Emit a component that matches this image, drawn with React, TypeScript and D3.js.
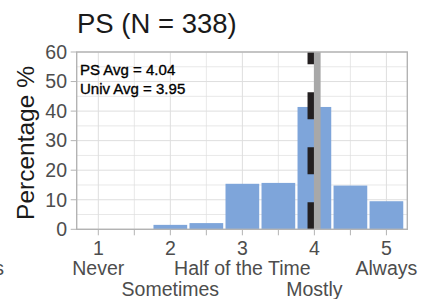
import { scaleLinear, range } from 'd3'

// Histogram of PS responses with PS / university averages as vertical lines.

const binCenters = [1, 1.5, 2, 2.5, 3, 3.5, 4, 4.5, 5]
const percents = [0, 0, 1.5, 2.1, 15.4, 15.7, 41.4, 14.8, 9.5]
const tickValues = [1, 2, 3, 4, 5]
const tickNames = ['Never', 'Sometimes', 'Half of the Time', 'Mostly', 'Always']
const tickNameRow = [0, 1, 0, 1, 0]
const yTicks = [0, 10, 20, 30, 40, 50, 60]
const psAvg = 4.04
const univAvg = 3.95

const W = 425
const H = 299
const P = { left: 76.7, right: 407.3, top: 52, bottom: 229.3 }
const FONT = '"Liberation Sans", Arial, Helvetica, sans-serif'
const TICK_FS = 19.5

export default function App() {
  const x = scaleLinear().domain([0.7, 5.29]).range([P.left, P.right])
  const y = scaleLinear().domain([0, 60]).range([P.bottom, P.top])
  const halfBar = 0.234

  return (
    <svg width={W} height={H} style={{ position: 'absolute', left: 0, top: 0 }} fontFamily={FONT}>
      <rect width={W} height={H} fill="#fff" />
      <text x={77} y={33} fontSize={27.5} fill="#1a1a1a">PS (N = 338)</text>

      {/* grid */}
      {range(0, 61, 5).map((v) => (
        <line key={'h' + v} x1={P.left} x2={P.right} y1={y(v)} y2={y(v)} stroke="#dedede" strokeWidth={v % 10 === 0 ? 1 : 0.7} />
      ))}
      {range(1, 5.3, 0.5).map((v) => (
        <line key={'v' + v} x1={x(v)} x2={x(v)} y1={P.top} y2={P.bottom} stroke="#dedede" strokeWidth={v % 1 === 0 ? 1 : 0.7} />
      ))}

      {/* bars */}
      {binCenters.map((c, i) =>
        percents[i] > 0 ? (
          <rect
            key={c}
            x={x(c - halfBar)}
            width={x(c + halfBar) - x(c - halfBar)}
            y={y(percents[i])}
            height={y(0) - y(percents[i])}
            fill="#7ea5da"
          />
        ) : null,
      )}

      {/* averages */}
      <line x1={x(univAvg)} x2={x(univAvg)} y1={P.bottom} y2={P.top} stroke="#231f20" strokeWidth={6.5} strokeDasharray="27 28" />
      <line x1={x(psAvg)} x2={x(psAvg)} y1={P.bottom} y2={P.top} stroke="#a8a8a8" strokeWidth={6.7} />

      <text x={80} y={75} fontSize={15} fill="#000" stroke="#000" strokeWidth={0.35}>PS Avg = {psAvg.toFixed(2)}</text>
      <text x={80} y={94} fontSize={15} fill="#000" stroke="#000" strokeWidth={0.35}>Univ Avg = {univAvg.toFixed(2)}</text>

      {/* panel border */}
      <rect x={P.left} y={P.top} width={P.right - P.left} height={P.bottom - P.top} fill="none" stroke="#b3b3b3" strokeWidth={1.4} />

      {/* y axis */}
      {yTicks.map((v) => (
        <g key={v}>
          <line x1={P.left - 6} x2={P.left} y1={y(v)} y2={y(v)} stroke="#b3b3b3" />
          <text x={67} y={y(v)} dy="0.35em" fontSize={TICK_FS} textAnchor="end" fill="#4d4d4d">{v}</text>
        </g>
      ))}
      <text transform={`translate(34,143) rotate(-90)`} fontSize={24.5} textAnchor="middle" fill="#1a1a1a">Percentage %</text>

      {/* x axis */}
      {range(1, 5.3, 0.5).map((v) => (
        <line key={'t' + v} x1={x(v)} x2={x(v)} y1={P.bottom} y2={P.bottom + 6} stroke="#b3b3b3" />
      ))}
      {tickValues.map((v, i) => (
        <g key={v}>
          <text x={x(v)} y={248} dy="0.35em" fontSize={TICK_FS} textAnchor="middle" fill="#4d4d4d">{v}</text>
          <text x={x(v)} y={268 + tickNameRow[i] * 21} dy="0.35em" fontSize={TICK_FS} textAnchor="middle" fill="#4d4d4d">{tickNames[i]}</text>
        </g>
      ))}
      <text x={4} y={268} dy="0.35em" fontSize={TICK_FS} textAnchor="end" fill="#4d4d4d">Responses</text>
    </svg>
  )
}
